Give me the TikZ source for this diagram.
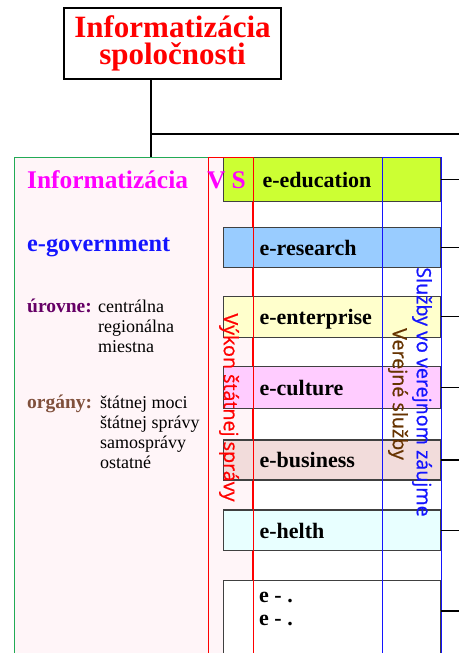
\documentclass[tikz,border=0pt]{standalone}
\usepackage{fontspec}
\setmainfont{Liberation Serif}
\newfontfamily\vsans[FakeBold=0.8]{Open Sans}
\definecolor{panelpink}{RGB}{255,245,248}
\definecolor{edu}{RGB}{204,255,51}
\definecolor{res}{RGB}{153,204,255}
\definecolor{ent}{RGB}{255,255,204}
\definecolor{cul}{RGB}{255,204,255}
\definecolor{bus}{RGB}{242,220,219}
\definecolor{hel}{RGB}{232,255,255}
\definecolor{purp}{RGB}{102,0,102}
\definecolor{orgbrown}{RGB}{128,80,60}
\definecolor{vsbrown}{RGB}{102,51,0}
\definecolor{vsblue}{RGB}{20,20,255}
\definecolor{boxgray}{RGB}{64,64,64}
\definecolor{panelgreen}{RGB}{34,170,85}
\definecolor{magen}{RGB}{255,0,255}
\definecolor{pured}{RGB}{255,0,0}
\begin{document}
\begin{tikzpicture}[x=1pt,y=-1pt,
  rowbox/.style={draw=boxgray, line width=1.2pt, anchor=north west, text width=217pt, inner sep=0pt, align=left, text height=16pt, text depth=0pt, font=\fontsize{22}{24}\selectfont\bfseries},
  conn/.style={draw=black, line width=1.2pt},
  vlabel/.style={rotate=-90, font=\vsans\fontsize{19.7}{22}\selectfont, inner sep=0pt},
  ltext/.style={anchor=base west, inner sep=0pt}]
\useasboundingbox (0,0) rectangle (459,653);
\begin{scope}
\clip (0,0) rectangle (459,653);
% title
\node[draw=black, line width=1.4pt, minimum width=217pt, minimum height=71pt, inner sep=0pt, align=center, text=pured, font=\fontsize{31}{27}\selectfont\bfseries] (title) at (172.5,43.5) {Informatizácia\\spoločnosti};
% panels
\node[draw=panelgreen, fill=panelpink, line width=1pt, anchor=north west, minimum width=194pt, minimum height=540pt, inner sep=0pt] (panel) at (14,157) {};
\node[draw=pured, fill=panelpink, line width=1pt, anchor=north west, minimum width=44pt, minimum height=540pt, inner sep=0pt] (vykon) at (208,157) {};
% rows
\node[rowbox, fill=edu, minimum height=44pt] (edu) at (223,157) {\hspace*{39pt}e-education};
\node[rowbox, fill=res, minimum height=40pt] (res) at (223,226.7) {\hspace*{36pt}e-research};
\node[rowbox, fill=ent, minimum height=41pt] (ent) at (223,295.7) {\hspace*{36pt}e-enterprise};
\node[rowbox, fill=cul, minimum height=42pt] (cul) at (223,366) {\hspace*{36pt}e-culture};
\node[rowbox, fill=bus, minimum height=40pt] (bus) at (223,439.3) {\hspace*{36pt}e-business};
\node[rowbox, fill=hel, minimum height=40.7pt] (hel) at (223,509.3) {\hspace*{36pt}e-helth};
\node[rowbox, fill=white, minimum height=100pt] (edots) at (223,580) {};
\node[ltext, align=left, font=\fontsize{22}{23}\selectfont\bfseries] (edtext) at (259,625) {e - .\\e - .};
% outlines over rows
\draw[pured, line width=1pt] (vykon.north west) rectangle (vykon.south east);
\node[draw=vsblue, line width=1pt, anchor=north west, minimum width=59pt, minimum height=540pt, inner sep=0pt] (sluzby) at (382,157) {};
% vertical labels
\node[vlabel, text=pured] (vykonlbl) at (229,407.5) {Výkon štátnej správy};
\node[vlabel, text=vsbrown] (vslbl) at (398,394) {Verejné služby};
\node[vlabel, text=vsblue] (szlbl) at (422,392) {Služby vo verejnom záujme};
% left texts
\node[ltext, text=magen, font=\fontsize{25.4}{28}\selectfont\bfseries] (infvs) at (27,188) {Informatizácia\hspace{19pt}V S};
\node[ltext, text=vsblue, font=\fontsize{24.3}{28}\selectfont\bfseries] (egov) at (27,251.7) {e-government};
\node[ltext, text=purp, font=\fontsize{19.5}{22}\selectfont\bfseries] (urovne) at (27,312.7) {úrovne:};
\node[ltext, align=left, font=\fontsize{18}{19.7}\selectfont] (urlist) at (98,352.1) {centrálna\\regionálna\\miestna};
\node[ltext, text=orgbrown, font=\fontsize{19.5}{22}\selectfont\bfseries] (organy) at (27,408.3) {orgány:};
\node[ltext, align=left, font=\fontsize{18}{20}\selectfont] (orglist) at (100,468) {štátnej moci\\štátnej správy\\samosprávy\\ostatné};
% connectors
\coordinate (rim) at (459,0);
\coordinate (trunk) at (151,134);
\draw[conn] (title.south -| trunk) -- (panel.north -| trunk);
\draw[conn] (trunk) -- (trunk -| rim);
\foreach \r in {edu,res,ent,cul,bus,hel}{
  \draw[conn] (\r.east) -- (\r.east -| rim);
}
\draw[conn] ([yshift=-31pt]edots.north east) -- ([yshift=-31pt]edots.north east -| rim);
\end{scope}
\end{tikzpicture}
\end{document}
